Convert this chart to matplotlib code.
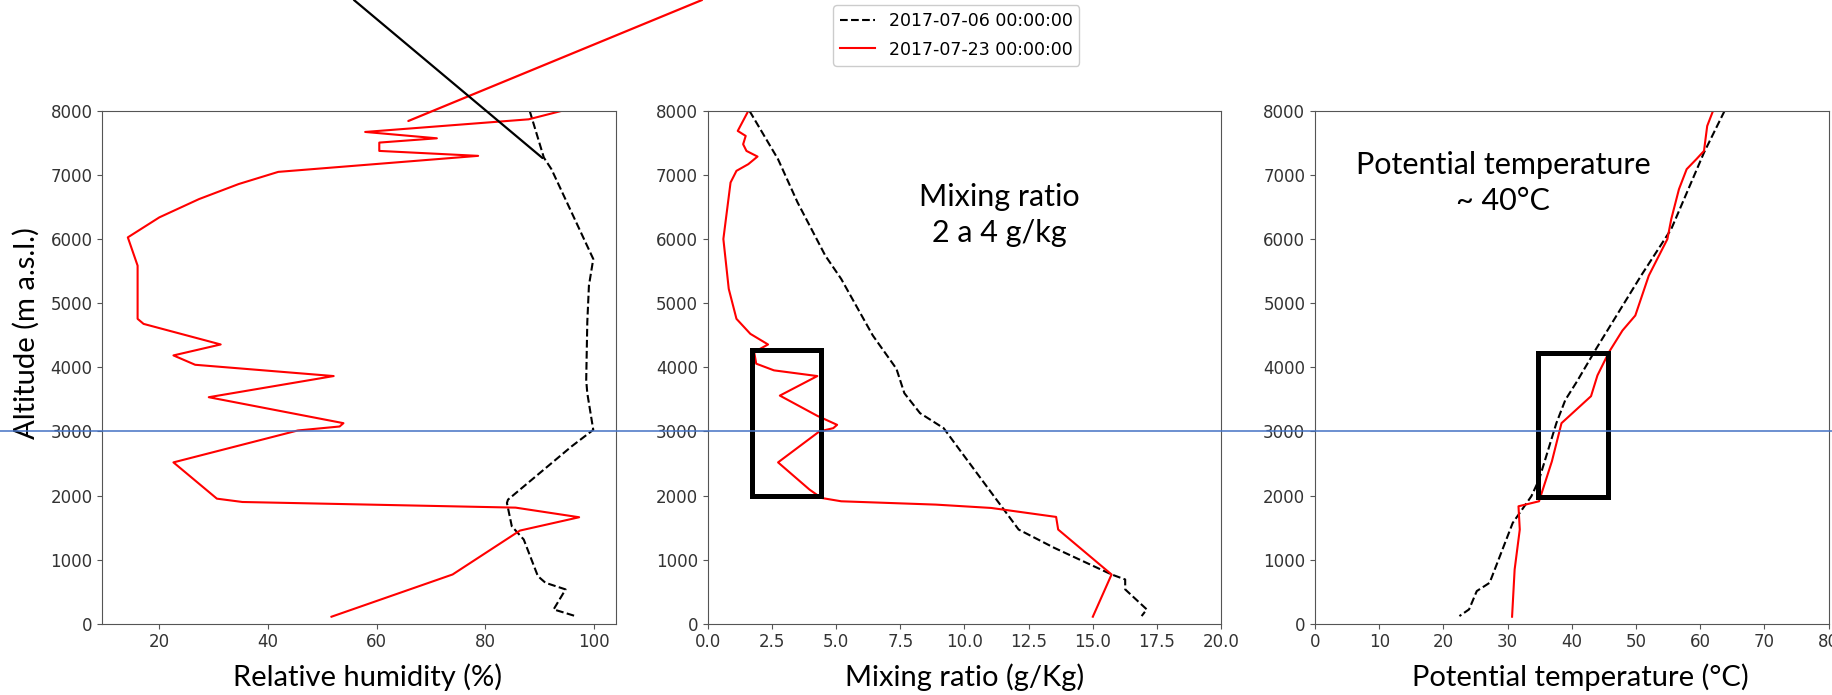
import matplotlib
matplotlib.use("Agg")
import matplotlib.pyplot as plt
from matplotlib.lines import Line2D
from matplotlib.patches import Rectangle
from matplotlib.transforms import blended_transform_factory

# --- sounding profiles ---
label_a = "2017-07-06 00:00:00"
label_b = "2017-07-23 00:00:00"

# relative humidity (%)
rh_a = [88.2, 90.8, 92.2, 99.9, 99.1, 98.8, 98.6, 98.8, 99.9, 95.9, 84.2, 84.0, 84.9,
        87.1, 89.7, 91.1, 94.8, 92.6, 96.6]
rh_a_alt = [8000, 7273, 7092, 5691, 5276, 4705, 3800, 3596, 3025, 2766, 1936, 1884, 1520,
            1313, 742, 638, 535, 223, 119]
rh_b = [94.0, 88.0, 57.9, 71.1, 60.5, 60.5, 78.7, 41.9, 34.6, 27.3, 20.0, 14.2, 16.0, 16.0,
        17.1, 31.3, 22.6, 26.6, 52.1, 29.1, 53.9, 53.2, 45.5, 22.6, 30.6, 35.3, 85.6, 97.3,
        86.4, 74.0, 51.7]
rh_b_alt = [8000, 7870, 7673, 7574, 7507, 7377, 7300, 7050, 6860, 6625, 6340, 6028, 5587, 4757,
            4678, 4357, 4186, 4040, 3864, 3534, 3129, 3077, 3015, 2517, 1951, 1899, 1811, 1661,
            1453, 768, 109]

# mixing ratio (g/kg)
mr_a = [1.63, 2.74, 3.50, 4.58, 5.20, 6.43, 7.35, 7.66, 8.27, 9.19, 9.81, 12.11, 13.5,
        15.73, 16.26, 16.26, 17.1, 16.9]
mr_a_alt = [8000, 7247, 6573, 5743, 5379, 4497, 3978, 3596, 3285, 3051, 2714, 1469, 1183,
            768, 690, 535, 223, 119]
mr_b = [1.58, 1.17, 1.48, 1.38, 1.51, 1.94, 1.58, 1.12, 0.89, 0.61, 0.82, 1.12, 1.66, 2.35,
        1.81, 1.89, 2.58, 4.27, 2.81, 4.27, 5.04, 4.89, 4.35, 2.74, 3.97, 4.43, 5.2, 8.89,
        11.04, 13.57, 13.65, 15.73, 15.0]
mr_b_alt = [8000, 7689, 7611, 7481, 7377, 7289, 7170, 7066, 6884, 6002, 5224, 4757, 4523, 4357,
            4238, 4057, 3953, 3864, 3559, 3243, 3103, 3051, 3000, 2517, 2091, 1962, 1910, 1858,
            1806, 1666, 1469, 768, 109]

# potential temperature (deg C)
th_a = [63.8, 60.6, 55.5, 50.8, 43.8, 40.8, 39.0, 37.6, 34.9, 33.7, 30.8, 29.0, 27.2, 25.2,
        24.0, 22.5]
th_a_alt = [8000, 7351, 6158, 5431, 4290, 3778, 3492, 3129, 2247, 1988, 1572, 1105, 638, 509,
            223, 119]
th_b = [62.0, 61.1, 60.6, 59.4, 57.9, 56.7, 55.5, 54.9, 52.0, 49.9, 47.9, 45.8, 44.0, 43.0,
        38.4, 36.9, 34.9, 31.7, 31.9, 31.1, 30.7]
th_b_alt = [8000, 7766, 7377, 7247, 7092, 6780, 6313, 6002, 5431, 4809, 4575, 4238, 3874, 3550,
            3129, 2532, 1910, 1832, 1469, 846, 109]

ref_alt = 3000
# highlighted layers: (xmin, xmax, altmin, altmax)
box_mr = (1.72, 4.43, 2000, 4270)
box_th = (34.7, 45.7, 1980, 4220)

fig = plt.figure(figsize=(18.32, 6.95), dpi=100)
big = ["Lato", "DejaVu Sans"]
tick_col = "#333333"

pos = [0.05584, 0.3863, 0.7178]
axes = [fig.add_axes([p, 0.1026, 0.2803, 0.7377]) for p in pos]
ax1, ax2, ax3 = axes

ax1.plot(rh_a, rh_a_alt, "k--", lw=1.5, label=label_a)
ax1.plot(rh_b, rh_b_alt, color="red", lw=1.5, label=label_b)
ax1.set_xlim(9.5, 104.05)
ax1.set_xticks([20, 40, 60, 80, 100])

ax2.plot(mr_a, mr_a_alt, "k--", lw=1.5)
ax2.plot(mr_b, mr_b_alt, color="red", lw=1.5)
ax2.set_xlim(0, 20)
ax2.set_xticks([0, 2.5, 5, 7.5, 10, 12.5, 15, 17.5, 20])
ax2.set_xticklabels(["0.0", "2.5", "5.0", "7.5", "10.0", "12.5", "15.0", "17.5", "20.0"])

ax3.plot(th_a, th_a_alt, "k--", lw=1.5)
ax3.plot(th_b, th_b_alt, color="red", lw=1.5)
ax3.set_xlim(0, 80)
ax3.set_xticks(range(0, 81, 10))

for ax in axes:
    ax.set_ylim(0, 8000)
    ax.set_yticks(range(0, 8001, 1000))
    ax.tick_params(labelsize=12, colors="#555555", labelcolor=tick_col)
    for s in ax.spines.values():
        s.set_color("#555555")

ax1.set_xlabel("Relative humidity (%)", family=big, fontsize=21, va="center")
ax2.set_xlabel("Mixing ratio (g/Kg)", family=big, fontsize=21, va="center")
ax3.set_xlabel("Potential temperature (°C)", family=big, fontsize=21, va="center")
ax1.xaxis.set_label_coords(0.516, -0.104)
ax2.xaxis.set_label_coords(0.5, -0.104)
ax3.xaxis.set_label_coords(0.517, -0.104)
fig.text(26 / 1832, 1 - 333 / 695, "Altitude (m a.s.l.)", rotation=90, family=big,
         fontsize=21, ha="center", va="center")

ax2.text(11.35, 6380, "Mixing ratio\n2 a 4 g/kg", family=big, fontsize=22,
         ha="center", va="center", linespacing=1.35)
ax3.text(29.3, 6877, "Potential temperature\n~ 40°C", family=big, fontsize=22,
         ha="center", va="center", linespacing=1.35)

for ax, b in [(ax2, box_mr), (ax3, box_th)]:
    ax.add_patch(Rectangle((b[0], b[2]), b[1] - b[0], b[3] - b[2], fill=False,
                           ec="black", lw=3.6, joinstyle="miter", zorder=5))

# reference altitude line across the whole figure
tr = blended_transform_factory(fig.transFigure, ax1.transData)
fig.add_artist(Line2D([0, 1], [ref_alt, ref_alt], transform=tr, color="#4472C4", lw=1.1,
                      zorder=10))

# pointer lines from the top edge
ax1.annotate("", xy=(65.85, 7844), xytext=(0.3832, 1.0), textcoords="figure fraction",
             arrowprops=dict(arrowstyle="-", color="red", lw=1.6, shrinkA=0, shrinkB=0),
             annotation_clip=False)
ax1.annotate("", xy=(90.55, 7266), xytext=(0.1932, 1.0), textcoords="figure fraction",
             arrowprops=dict(arrowstyle="-", color="black", lw=1.6, shrinkA=0, shrinkB=0),
             annotation_clip=False)

h, l = ax1.get_legend_handles_labels()
fig.legend(h, l, loc="upper center", bbox_to_anchor=(0.522, 1.0), fontsize=12.5,
           framealpha=1, labelspacing=0.6, borderaxespad=0.3)

fig.savefig("out.png", dpi=100)
